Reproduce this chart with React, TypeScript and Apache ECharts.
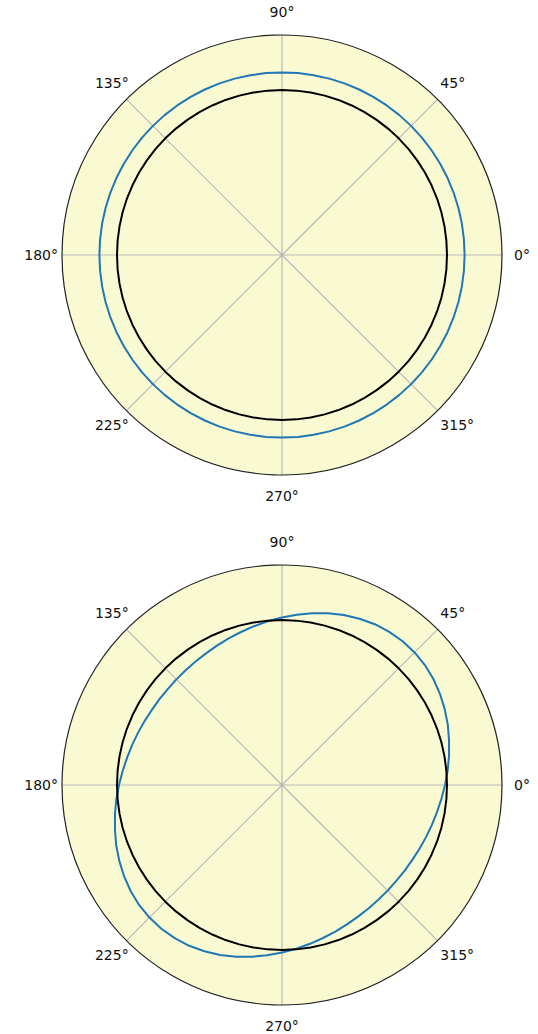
import React, { useEffect, useRef } from "react";
import * as echarts from "echarts";

// Sample angles in degrees (closed curve: 0 … 360, every 5°)
const angles = [
  0, 5, 10, 15, 20, 25, 30, 35, 40, 45, 50, 55, 60, 65, 70, 75, 80, 85, 90, 95,
  100, 105, 110, 115, 120, 125, 130, 135, 140, 145, 150, 155, 160, 165, 170, 175,
  180, 185, 190, 195, 200, 205, 210, 215, 220, 225, 230, 235, 240, 245, 250, 255,
  260, 265, 270, 275, 280, 285, 290, 295, 300, 305, 310, 315, 320, 325, 330, 335,
  340, 345, 350, 355, 360,
];

// Upper panel: two concentric circles
const upperBlueRadius = 0.83;
const referenceRadius = 0.75;

// Lower panel: tilted oval, radius at each sample angle
const lowerBlueR = [
  0.741, 0.756, 0.771, 0.786, 0.802, 0.816, 0.829, 0.840, 0.848, 0.852, 0.853, 0.850,
  0.844, 0.834, 0.822, 0.808, 0.793, 0.777, 0.761, 0.747, 0.733, 0.720, 0.709, 0.699,
  0.691, 0.685, 0.681, 0.679, 0.678, 0.680, 0.683, 0.689, 0.696, 0.705, 0.715, 0.727,
  0.741, 0.756, 0.771, 0.786, 0.802, 0.816, 0.829, 0.840, 0.848, 0.852, 0.853, 0.850,
  0.844, 0.834, 0.822, 0.808, 0.793, 0.777, 0.761, 0.747, 0.733, 0.720, 0.709, 0.699,
  0.691, 0.685, 0.681, 0.679, 0.678, 0.680, 0.683, 0.689, 0.696, 0.705, 0.715, 0.727,
  0.741,
];

const tickLabels = ["0°", "45°", "90°", "135°", "180°", "225°", "270°", "315°"];

// Per-label padding [top, right, bottom, left] so each label sits centred
// on a ring just outside the plot edge
const labelPadding: number[][] = [
  [0, 0, 0, 18],
  [0, 0, 14, 7],
  [0, 0, 22, 0],
  [0, 2, 14, 0],
  [0, 10, 0, 0],
  [12, 2, 0, 0],
  [20, 0, 0, 0],
  [12, 0, 0, 7],
];

const BLUE = "#1f77b4";
const BLACK = "#000000";
const LABEL = "#111111";

function angleAxis(polarIndex: number) {
  const rich: Record<string, object> = {};
  labelPadding.forEach((p, i) => {
    rich["l" + i] = {
      padding: p,
      color: LABEL,
      fontSize: 14,
      fontFamily: "DejaVu Sans",
    };
  });
  return {
    polarIndex,
    type: "value",
    min: 0,
    max: 360,
    interval: 45,
    startAngle: 0,
    clockwise: false,
    z: 2,
    axisLine: { show: true, lineStyle: { color: "#222222", width: 1.2 } },
    axisTick: { show: false },
    axisLabel: {
      show: true,
      margin: -6,
      color: LABEL,
      fontSize: 14,
      fontFamily: "DejaVu Sans",
      rich,
      formatter: (v: number) => {
        if (v >= 360) return "";
        const i = Math.round(v / 45);
        return "{l" + i + "|" + tickLabels[i] + "}";
      },
    },
    splitLine: { show: true, lineStyle: { color: "#b8b8b8", width: 1.2 } },
    splitArea: { show: false },
  };
}

function radiusAxis(polarIndex: number) {
  return {
    polarIndex,
    type: "value",
    min: 0,
    max: 1,
    interval: 1,
    z: 0,
    axisLine: { show: false },
    axisTick: { show: false },
    axisLabel: { show: false },
    splitLine: { show: false },
    splitArea: { show: true, areaStyle: { color: ["#FAFAD2"], opacity: 1 } },
  };
}

function lineSeries(polarIndex: number, rs: number[], color: string) {
  return {
    type: "line",
    coordinateSystem: "polar",
    polarIndex,
    showSymbol: false,
    symbol: "none",
    smooth: false,
    lineStyle: { color, width: 2, join: "round" },
    data: angles.map((a, i) => [rs[i], a]),
    z: 3,
  };
}

export default function App() {
  const ref = useRef<HTMLDivElement>(null);

  useEffect(() => {
    document.body.style.margin = "0";
    if (!ref.current) return;
    const chart = echarts.init(ref.current, undefined, { renderer: "svg" });
    const constant = (r: number) => angles.map(() => r);
    chart.setOption({
      animation: false,
      polar: [
        { center: [282, 255], radius: 220 },
        { center: [282, 785], radius: 220 },
      ],
      angleAxis: [angleAxis(0), angleAxis(1)],
      radiusAxis: [radiusAxis(0), radiusAxis(1)],
      series: [
        lineSeries(0, constant(upperBlueRadius), BLUE),
        lineSeries(0, constant(referenceRadius), BLACK),
        lineSeries(1, lowerBlueR, BLUE),
        lineSeries(1, constant(referenceRadius), BLACK),
      ],
    });
    return () => chart.dispose();
  }, []);

  return <div ref={ref} style={{ width: 538, height: 1034 }} />;
}
